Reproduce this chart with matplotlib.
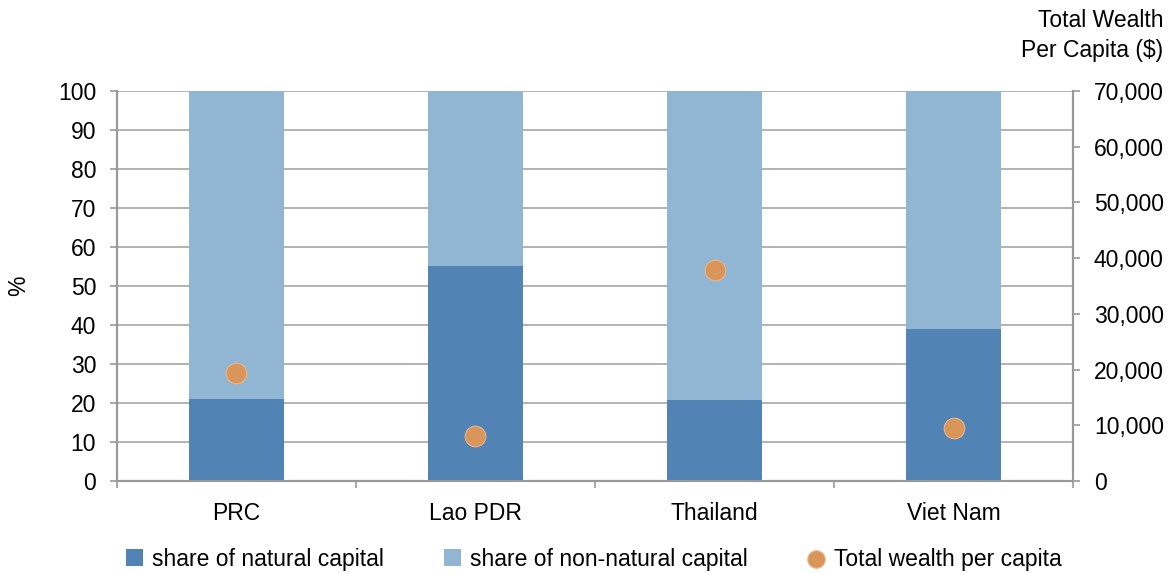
import numpy as np
import matplotlib.pyplot as plt

plt.rcParams['font.family'] = ['Liberation Sans', 'DejaVu Sans']

# ---------------- Data ---------------- #
countries = ['PRC', 'Lao PDR', 'Thailand', 'Viet Nam']
natural_share = [21, 55, 20.8, 39]
non_natural_share = [100 - v for v in natural_share]
wealth_per_capita = [19400, 8100, 37900, 9500]

dark_blue = '#5283b5'
light_blue = '#91b6d4'
orange = '#d9955a'
axis_grey = '#999999'
fs = 16.5

fig = plt.figure(figsize=(11.73, 5.74), dpi=100)
ax = fig.add_axes([0.0997, 0.162, 0.8151, 0.6795])
ax2 = ax.twinx()

x = np.arange(len(countries))

# ---------------- Stacked bars ---------------- #
ax.bar(x, natural_share, width=0.4, color=dark_blue, zorder=2,
       label='share of natural capital')
ax.bar(x, non_natural_share, width=0.4, bottom=natural_share, color=light_blue,
       zorder=2, label='share of non-natural capital')

# ---------------- Wealth dots ---------------- #
ax2.scatter(x, wealth_per_capita, s=220, color=orange, edgecolors='#e8b78a',
            linewidths=0.8, zorder=3, label='Total wealth per capita')

# ---------------- Axes ---------------- #
ax.set_xlim(-0.5, 3.5)
ax.set_ylim(0, 100)
ax.set_yticks(range(0, 101, 10))
ax.yaxis.grid(True, color='#a6a6a6', linewidth=1.2, zorder=0)
ax.set_axisbelow(True)

ax2.set_ylim(0, 70000)
ax2.set_yticks(range(0, 70001, 10000))
ax2.set_yticklabels([f'{v:,}' for v in range(0, 70001, 10000)])

ax.set_xticks(x)
ax.set_xticklabels(countries)
ax.set_xticks(np.arange(-0.5, 4.0, 1.0), minor=True)
ax.tick_params(axis='x', which='major', length=0, pad=15, labelsize=fs)
ax.tick_params(axis='x', which='minor', length=5, width=1.2, color=axis_grey)
ax.tick_params(axis='y', length=5, width=1.2, color=axis_grey, labelsize=fs, pad=10)
ax2.tick_params(axis='y', length=5, width=1.2, color=axis_grey, labelsize=fs, pad=10)

for a in (ax, ax2):
    a.spines['top'].set_visible(False)
    for s in ('left', 'right', 'bottom'):
        a.spines[s].set_color(axis_grey)
        a.spines[s].set_linewidth(1.5)

fig.text(0.016, 0.502, '%', rotation=90, ha='center', va='center', fontsize=fs)
fig.text(0.9915, 0.985, 'Total Wealth\nPer Capita ($)', ha='right', va='top',
         fontsize=fs, linespacing=1.4)

# ---------------- Legend ---------------- #
h1, l1 = ax.get_legend_handles_labels()
h2, l2 = ax2.get_legend_handles_labels()
fig.legend(h1 + h2, l1 + l2, loc='center', bbox_to_anchor=(0.506, 0.026),
           ncol=3, frameon=False, fontsize=fs, handlelength=0.75, handleheight=0.75,
           handletextpad=0.4, columnspacing=2.6, markerscale=0.85)

fig.savefig('out.png', dpi=100)
